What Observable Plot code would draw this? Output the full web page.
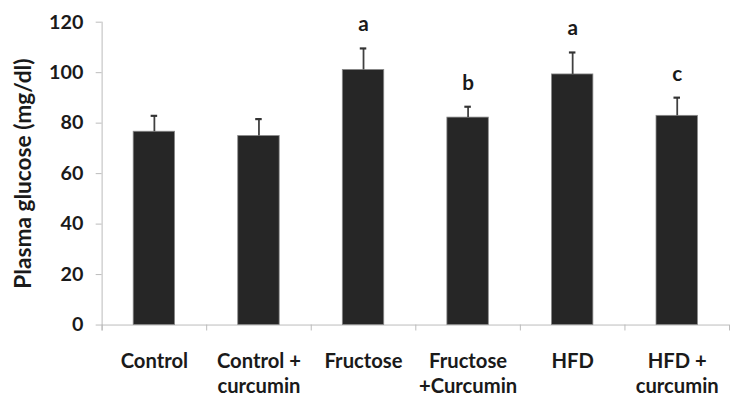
<!DOCTYPE html>
<html>
<head>
<meta charset="utf-8">
<script src="https://cdn.jsdelivr.net/npm/d3@7"></script>
<script src="https://cdn.jsdelivr.net/npm/@observablehq/plot@0.6"></script>
<style>
  html, body { margin: 0; padding: 0; background: #fff; overflow: hidden; width: 730px; height: 400px; }
  #chart svg { display: block; }
</style>
</head>
<body>
<div id="chart"></div>
<script>
const categories = ["Control", "Control +\ncurcumin", "Fructose", "Fructose\n+Curcumin", "HFD", "HFD +\ncurcumin"];
const means = [76.6, 74.9, 101.1, 82.2, 99.3, 82.9];
const errors = [6.3, 6.7, 8.5, 4.3, 8.7, 7.2];
const letters = ["", "", "a", "b", "a", "c"];
const yTicks = [0, 20, 40, 60, 80, 100, 120];
const yLabel = "Plasma glucose (mg/dl)";

const table = categories.map((c, i) => ({cat: c, mean: means[i], sd: errors[i], letter: letters[i], top: means[i] + errors[i]}));
const font = "Lato, 'Open Sans', sans-serif";
const tickLen = 2.35; // in y units, ~6px below baseline

const chart = Plot.plot({
  width: 740,
  height: 400,
  marginLeft: 103,
  marginRight: 1,
  marginTop: 22,
  marginBottom: 71,
  style: {fontFamily: font, fontWeight: "bold", background: "#fff"},
  x: {domain: categories, paddingInner: 0.6, paddingOuter: 0.3, label: null},
  y: {domain: [0, 120], label: null},
  marks: [
    Plot.axisY({ticks: yTicks, tickSize: 6, tickPadding: 13, fontSize: 20, stroke: "#bbb", fill: "#1a1a1a", label: null, tickFormat: d => String(d)}),
    Plot.axisX({tickSize: 0, tickPadding: 26, fontSize: 20.5, lineHeight: 1.22, fill: "#1a1a1a", label: null}),
    // y axis line
    Plot.ruleX([categories[0]], {x: d => d, dx: -53, y1: -tickLen, y2: 120, stroke: "#bbb"}),
    // baseline
    Plot.ruleY([0], {stroke: "#bbb"}),
    // category boundary ticks
    Plot.ruleX(categories, {x: d => d, dx: -53, y1: 0, y2: -tickLen, stroke: "#bbb"}),
    Plot.ruleX([categories[categories.length - 1]], {x: d => d, dx: 53, y1: 0, y2: -tickLen, stroke: "#bbb"}),
    // bars
    Plot.barY(table, {x: "cat", y: "mean", fill: "#262626", stroke: "#8a8a8a", strokeWidth: 0.8}),
    // error bars
    Plot.ruleX(table, {x: "cat", y1: "mean", y2: "top", stroke: "#404040", strokeWidth: 1.8}),
    Plot.tickY(table, {x: "cat", y: "top", stroke: "#333", strokeWidth: 2.2, inset: 17.7}),
    // significance letters
    Plot.text(table, {x: "cat", y: "top", text: "letter", dy: -24, fontSize: 21, fontWeight: "bold", fill: "#1a1a1a"}),
    // y axis title
    Plot.text([yLabel], {frameAnchor: "left", textAnchor: "middle", rotate: -90, dx: -79, fontSize: 23, fontWeight: "bold", fill: "#1a1a1a"})
  ]
});
document.getElementById("chart").appendChild(chart);
</script>
</body>
</html>
